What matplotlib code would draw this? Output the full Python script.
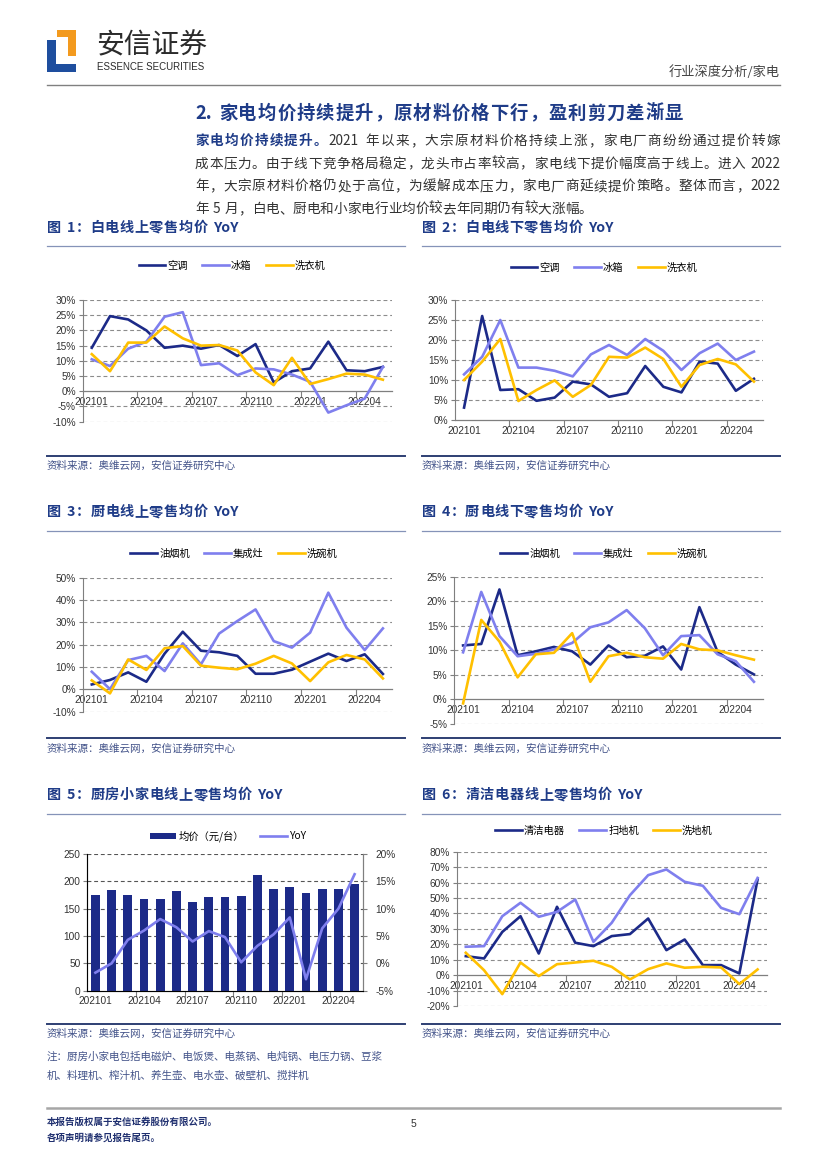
import matplotlib
matplotlib.use('Agg')
import matplotlib.pyplot as plt
from matplotlib.patches import Rectangle
from matplotlib.lines import Line2D
import matplotlib.ticker as mticker
import numpy as np

W, H = 827, 1169
plt.rcParams['font.family'] = ['Liberation Sans', 'Noto Sans CJK SC', 'DejaVu Sans']
plt.rcParams['axes.unicode_minus'] = False
CJK = ['Noto Sans CJK SC', 'DejaVu Sans']

# ---------------- data ----------------
months = ['202101', '202102', '202103', '202104', '202105', '202106', '202107', '202108', '202109',
          '202110', '202111', '202112', '202201', '202202', '202203', '202204', '202205']
tick_labels = ['202101', '202104', '202107', '202110', '202201', '202204']

# Fig 1 white goods online YoY (%)
wl_names = ['空调', '冰箱', '洗衣机']
wl_ac = [14.3, 24.7, 23.6, 20.0, 14.3, 15.0, 14.0, 15.2, 11.6, 15.5, 2.9, 6.6, 7.5, 16.3, 6.9, 6.6, 8.0]
wl_fridge = [10.5, 8.3, 14.0, 16.3, 24.5, 26.0, 8.6, 9.2, 5.3, 7.5, 7.2, 5.5, 3.1, -7.0, -4.6, -2.4, 8.0]
wl_washer = [12.2, 6.6, 16.0, 16.0, 21.3, 17.4, 15.0, 15.2, 13.4, 6.2, 2.0, 11.0, 2.4, 4.0, 5.8, 5.5, 3.8]

# Fig 2 white goods offline YoY (%)
wx_names = ['空调', '冰箱', '洗衣机']
wx_ac = [3.1, 26.0, 7.5, 7.7, 4.8, 5.6, 9.6, 8.9, 5.8, 6.7, 13.5, 8.3, 6.9, 14.6, 14.1, 7.3, 10.3]
wx_fridge = [11.4, 15.8, 25.0, 13.1, 13.1, 12.3, 10.9, 16.4, 18.75, 16.25, 20.25, 17.3, 12.5, 16.7, 19.1, 15.0, 17.1]
wx_washer = [10.0, 14.6, 20.25, 4.75, 7.5, 9.9, 5.8, 8.75, 15.8, 15.6, 18.1, 15.25, 8.3, 13.75, 15.25, 13.9, 9.6]

# Fig 3 kitchen online YoY (%)
cx_names = ['油烟机', '集成灶', '洗碗机']
cx_hood = [2.2, 4.2, 7.6, 3.4, 16.0, 25.8, 17.3, 16.6, 15.0, 7.0, 7.0, 8.8, 12.4, 16.0, 12.7, 15.7, 6.9]
cx_stove = [7.9, 0.1, 13.1, 15.0, 8.2, 20.6, 11.2, 25.0, 30.6, 35.8, 21.6, 18.7, 25.4, 43.3, 27.6, 17.6, 27.3]
cx_dish = [4.0, -1.8, 13.4, 8.7, 18.4, 19.4, 10.6, 9.7, 9.0, 11.5, 15.0, 11.6, 3.7, 12.1, 15.4, 13.4, 4.9]

# Fig 4 kitchen offline YoY (%)
cd_names = ['油烟机', '集成灶', '洗碗机']
cd_hood = [11.0, 11.3, 22.4, 9.0, 9.8, 10.7, 9.8, 7.1, 11.0, 8.6, 8.9, 10.8, 6.1, 18.8, 9.7, 7.1, 5.1]
cd_stove = [9.6, 21.9, 12.9, 8.8, 9.3, 10.2, 11.5, 14.7, 15.7, 18.2, 14.5, 9.0, 12.9, 13.1, 9.2, 7.8, 3.6]
cd_dish = [-0.8, 16.2, 11.8, 4.5, 9.2, 9.5, 13.5, 3.6, 8.8, 9.5, 8.6, 8.3, 11.3, 10.2, 10.0, 9.0, 8.1]

# Fig 5 small kitchen appliances online
sk_names = ['均价（元/台）', 'YoY']
sk_price = [175, 184, 175, 168, 168, 183, 162, 172, 172, 174, 211, 186, 189, 179, 186, 186, 195]
sk_yoy = [-1.7, 0.0, 4.3, 6.0, 8.1, 6.6, 4.0, 5.9, 4.8, 0.2, 3.2, 5.3, 8.4, -2.9, 6.4, 10.0, 16.3]

# Fig 6 cleaning appliances online YoY (%)
cl_names = ['清洁电器', '扫地机', '洗地机']
cl_total = [12.3, 10.8, 28.0, 38.2, 14.0, 44.3, 21.0, 18.8, 25.3, 26.6, 36.7, 16.2, 23.1, 6.5, 6.5, 1.1, 62.0]
cl_robot = [18.4, 18.8, 38.2, 46.9, 37.8, 41.0, 49.0, 21.6, 33.9, 51.8, 64.8, 68.5, 60.5, 57.9, 43.6, 39.5, 63.0]
cl_floor = [14.5, 3.2, -12.3, 8.2, -0.6, 7.1, 8.2, 9.3, 5.4, -2.8, 3.9, 7.6, 4.8, 5.4, 5.0, -5.8, 3.7]

# ---------------- style ----------------
NAVY = '#1C2A88'
PURPLE = '#7F7FEE'
YELLOW = '#FFC000'
TBLUE = '#1F3C88'
GRID = '#8C8C8C'
AXC = '#7F7F7F'
TXT = '#333333'
SRC = '#44548A'

fig = plt.figure(figsize=(W / 100, H / 100), dpi=100)
renderer = fig.canvas.get_renderer()


def fx(x):
    return x / W


def fy(y):
    return 1 - y / H


def rect(x0, y0, x1, y1):
    return [x0 / W, 1 - y1 / H, (x1 - x0) / W, (y1 - y0) / H]


def hline(x0, x1, y, color, lw):
    fig.add_artist(Line2D([fx(x0), fx(x1)], [fy(y), fy(y)], color=color, lw=lw,
                          transform=fig.transFigure))


def box(x0, y0, x1, y1, color):
    fig.add_artist(Rectangle((fx(x0), fy(y1)), (x1 - x0) / W, (y1 - y0) / H,
                             transform=fig.transFigure, color=color, lw=0))


def txt(x, y, s, **kw):
    kw.setdefault('va', 'center')
    return fig.text(fx(x), fy(y), s, **kw)


def tokenize(s):
    toks = []
    buf = ''
    for ch in s:
        if ch.isascii() and ch != ' ':
            buf += ch
        else:
            if buf:
                toks.append(buf)
                buf = ''
            toks.append(ch)
    if buf:
        toks.append(buf)
    return toks


def spaced(segments, x0, y, fontsize, x1=None, extra=0.0):
    # y is the visual centre of the line; tokens are placed on a common baseline
    base = y + fontsize * 100 / 72 * 0.36
    items = []
    for s, color, weight in segments:
        for tk in tokenize(s):
            t = txt(x0, base, tk, fontsize=fontsize, color=color, weight=weight, family=CJK,
                    ha='left', va='baseline')
            w = t.get_window_extent(renderer).width if tk != ' ' else fontsize * 100 / 72 * 0.3
            items.append((t, w))
    total = sum(w for _, w in items)
    if x1 is not None and len(items) > 1:
        gap = (x1 - x0 - total) / (len(items) - 1)
    else:
        gap = extra
    x = x0
    for t, w in items:
        t.set_x(fx(x))
        x += w + gap


# ---------------- header ----------------
box(57, 30, 76, 37, '#F39A1E')
box(68, 30, 76, 56, '#F39A1E')
box(47, 40, 56, 72, '#1E4E9E')
box(47, 64, 76, 72, '#1E4E9E')
txt(96, 45, '安信证券', fontsize=20, color='#2B2B2B', family=CJK, ha='left')
txt(97, 66.5, 'ESSENCE SECURITIES', fontsize=7.0, color='#2B2B2B', ha='left')
txt(780, 72, '行业深度分析/家电', fontsize=9.5, color='#444444', family=CJK, ha='right')
hline(47, 780, 85, '#808080', 1.0)

spaced([('2. 家电均价持续提升，原材料价格下行，盈利剪刀差渐显', TBLUE, 'bold')], 195, 112, 13.2, extra=1.0)

para_lines = [
    [('家电均价持续提升。', TBLUE, 'bold'), ('2021 年以来，大宗原材料价格持续上涨，家电厂商纷纷通过提价转嫁', TXT, 'normal')],
    [('成本压力。由于线下竞争格局稳定，龙头市占率较高，家电线下提价幅度高于线上。进入 2022', TXT, 'normal')],
    [('年，大宗原材料价格仍处于高位，为缓解成本压力，家电厂商延续提价策略。整体而言，2022', TXT, 'normal')],
    [('年 5 月，白电、厨电和小家电行业均价较去年同期仍有较大涨幅。', TXT, 'normal')],
]
for i, segs in enumerate(para_lines):
    spaced(segs, 195, 140 + i * 22.7, 9.8, x1=(780 if i < 3 else None))


# ---------------- chart helpers ----------------
def panel_frame(xl, xr, ytitle, title, ybottom):
    spaced([(title, TBLUE, 'bold')], xl, ytitle, 10.2, extra=0.6)
    hline(xl, xr, ytitle + 19.5, '#8593B8', 0.9)
    hline(xl, xr, ybottom, '#2E3F73', 1.4)
    txt(xl, ybottom + 10.5, '资料来源：奥维云网，安信证券研究中心', fontsize=7.6, color=SRC,
        family=CJK, ha='left')


def style_x(ax, n):
    ax.set_xlim(-0.5, n - 0.5)
    ax.set_xticks(np.arange(2.5, n - 1, 3))
    ax.set_xticklabels([])
    ax.set_xticks(np.arange(0, n, 3), minor=True)
    ax.set_xticklabels(tick_labels, minor=True)
    ax.tick_params(axis='x', which='major', length=4, width=0.8, color=AXC, direction='out')
    ax.tick_params(axis='x', which='minor', length=0, pad=4, labelsize=7.3, labelcolor=TXT)


def line_chart(pos, series, names, ylim, ystep, legend_xy):
    ax = fig.add_axes(rect(*pos))
    x = np.arange(len(months))
    for vals, name, color in zip(series, names, [NAVY, PURPLE, YELLOW]):
        ax.plot(x, vals, color=color, lw=1.9, label=name, zorder=3)
    ax.set_ylim(*ylim)
    yt = np.arange(ylim[0], ylim[1] + ystep / 2, ystep)
    ax.set_yticks(yt)
    ax.yaxis.set_major_formatter(mticker.FuncFormatter(lambda v, p: f'{v:.0f}%'))
    ax.tick_params(axis='y', length=3, width=0.8, color=AXC, labelsize=7.3, labelcolor=TXT, pad=2)
    for v in yt:
        if v != 0:
            ax.axhline(v, color=GRID, lw=0.8, ls=(0, (3.5, 2.5)), zorder=0)
    for s in ['top', 'right']:
        ax.spines[s].set_visible(False)
    ax.spines['left'].set_color(AXC)
    ax.spines['left'].set_linewidth(0.8)
    ax.spines['bottom'].set_position(('data', 0))
    ax.spines['bottom'].set_color(AXC)
    ax.spines['bottom'].set_linewidth(0.9)
    style_x(ax, len(months))
    ax.patch.set_alpha(0)
    ax.legend(loc='center', bbox_to_anchor=(fx(legend_xy[0]), fy(legend_xy[1])),
              bbox_transform=fig.transFigure, ncol=3, frameon=False,
              handlelength=2.6, handletextpad=0.2, columnspacing=1.4, prop={'family': CJK, 'size': 7.4})
    return ax


# Row 1
panel_frame(47, 405, 226.5, '图 1：白电线上零售均价 YoY', 455.5)
panel_frame(422, 780, 226.5, '图 2：白电线下零售均价 YoY', 455.5)
line_chart((82.7, 300, 392, 421.7), [wl_ac, wl_fridge, wl_washer], wl_names, (-10, 30), 5, (232, 266))
line_chart((455, 300, 763, 420), [wx_ac, wx_fridge, wx_washer], wx_names, (0, 30), 5, (604, 268))

# Row 2
panel_frame(47, 405, 511, '图 3：厨电线上零售均价 YoY', 738)
panel_frame(422, 780, 511, '图 4：厨电线下零售均价 YoY', 738)
line_chart((82.7, 577.7, 392, 711.7), [cx_hood, cx_stove, cx_dish], cx_names, (-10, 50), 10, (234, 554))
line_chart((454, 576.7, 763, 724), [cd_hood, cd_stove, cd_dish], cd_names, (-5, 25), 5, (604, 554))

# Row 3
panel_frame(47, 405, 794, '图 5：厨房小家电线上零售均价 YoY', 1023.5)
panel_frame(422, 780, 794, '图 6：清洁电器线上零售均价 YoY', 1023.5)

ax5 = fig.add_axes(rect(87.3, 854, 362.7, 990.7))
x = np.arange(len(months))
ax5.bar(x, sk_price, width=0.55, color=NAVY, label=sk_names[0], zorder=2)
ax5.set_ylim(0, 250)
ax5.set_yticks(np.arange(0, 251, 50))
for v in np.arange(50, 251, 50):
    ax5.axhline(v, color='#555555', lw=0.8, ls=(0, (3.5, 2.5)), zorder=1)
ax5.tick_params(axis='y', length=3, width=0.8, color=AXC, labelsize=7.3, labelcolor=TXT, pad=2)
ax5.spines['top'].set_visible(False)
for s in ['left', 'right', 'bottom']:
    ax5.spines[s].set_color(AXC)
    ax5.spines[s].set_linewidth(0.8)
style_x(ax5, len(months))
ax5b = ax5.twinx()
ax5b.plot(x, sk_yoy, color=PURPLE, lw=1.9, label=sk_names[1], zorder=3)
ax5b.set_ylim(-5, 20)
ax5b.set_yticks(np.arange(-5, 21, 5))
ax5b.yaxis.set_major_formatter(mticker.FuncFormatter(lambda v, p: f'{v:.0f}%'))
ax5b.tick_params(axis='y', length=3, width=0.8, color=AXC, labelsize=7.3, labelcolor=TXT, pad=6)
ax5b.spines['top'].set_visible(False)
ax5b.spines['right'].set_color(AXC)
h1, l1 = ax5.get_legend_handles_labels()
h2, l2 = ax5b.get_legend_handles_labels()
ax5b.legend(h1 + h2, l1 + l2, loc='center', bbox_to_anchor=(fx(228), fy(836)),
            bbox_transform=fig.transFigure, ncol=2, frameon=False, handlelength=2.6,
            handleheight=0.55, handletextpad=0.2, columnspacing=1.6, prop={'family': CJK, 'size': 7.4})

line_chart((456.7, 851.7, 766.7, 1006), [cl_total, cl_robot, cl_floor], cl_names, (-20, 80), 10, (604, 831))

# notes
txt(47, 1057, '注：厨房小家电包括电磁炉、电饭煲、电蒸锅、电炖锅、电压力锅、豆浆', fontsize=7.6,
    color=SRC, family=CJK, ha='left')
txt(47, 1076, '机、料理机、榨汁机、养生壶、电水壶、破壁机、搅拌机', fontsize=7.6,
    color=SRC, family=CJK, ha='left')

# footer
hline(47, 780, 1108, '#A6A6A6', 1.8)
txt(47, 1121.5, '本报告版权属于安信证券股份有限公司。', fontsize=6.8, color='#1F2F6F', weight='bold',
    family=CJK, ha='left')
txt(47, 1137.5, '各项声明请参见报告尾页。', fontsize=6.8, color='#1F2F6F', weight='bold',
    family=CJK, ha='left')
txt(413, 1124, '5', fontsize=7.5, color=TXT, ha='center')

fig.savefig('out.png', dpi=100)
